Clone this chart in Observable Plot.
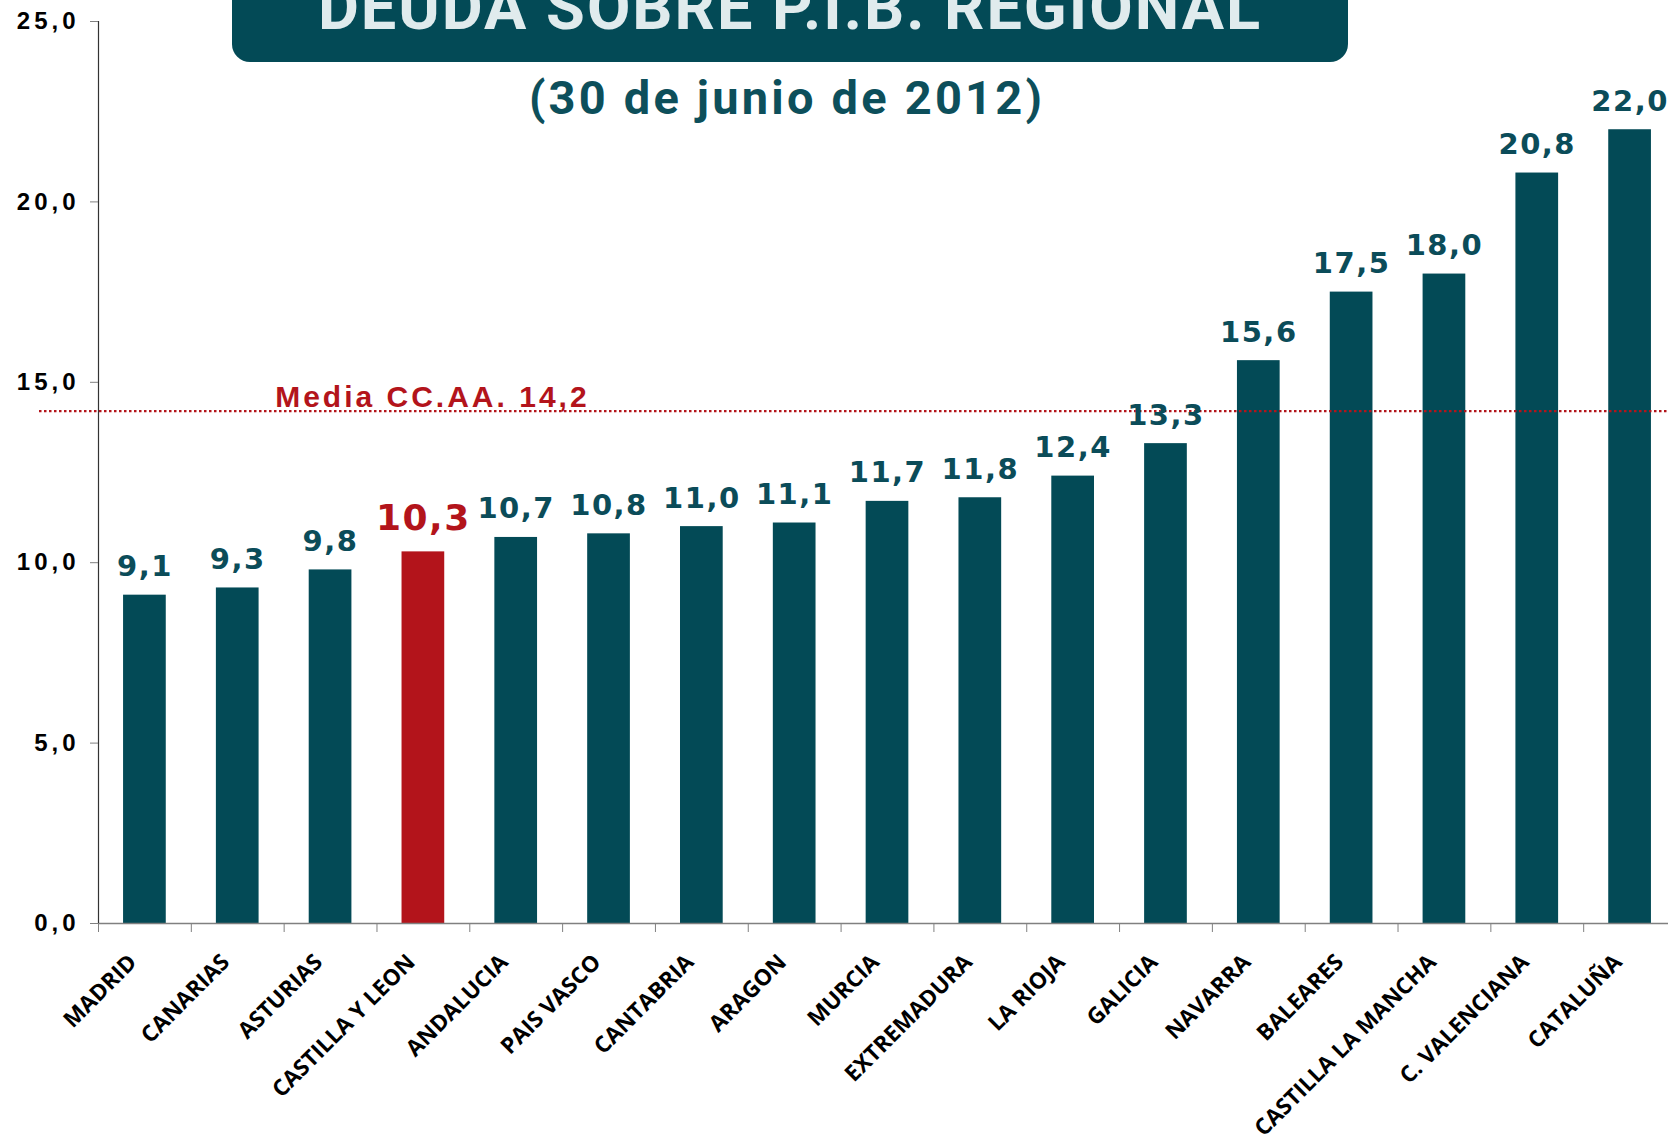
<!DOCTYPE html>
<html><head><meta charset="utf-8">
<script src="https://cdn.jsdelivr.net/npm/d3@7"></script>
<script src="https://cdn.jsdelivr.net/npm/@observablehq/plot@0.6"></script>
<style>
html,body{margin:0;padding:0;overflow:hidden;background:#fff;width:1668px;height:1138px;}
#wrap{position:relative;width:1668px;height:1138px;overflow:hidden;}
#chart{position:absolute;left:0;top:0;width:1676px;}
#chart svg{max-width:none !important;}
#head{position:absolute;left:0;top:0;}
</style></head><body>
<div id="wrap"><div id="chart"></div><svg id="head" width="1668" height="140"></svg></div>
<script>
const titleText = "DEUDA SOBRE P.I.B. REGIONAL";
const subtitleText = "(30 de junio de 2012)";
const regions = ["MADRID","CANARIAS","ASTURIAS","CASTILLA Y LEON","ANDALUCIA","PAIS VASCO","CANTABRIA","ARAGON","MURCIA","EXTREMADURA","LA RIOJA","GALICIA","NAVARRA","BALEARES","CASTILLA LA MANCHA","C. VALENCIANA","CATALUÑA"];
const deuda = [9.1,9.3,9.8,10.3,10.7,10.8,11.0,11.1,11.7,11.8,12.4,13.3,15.6,17.5,18.0,20.8,22.0];
const highlight = "CASTILLA Y LEON";
const mediaCCAA = 14.2;
const mediaLabel = "Media CC.AA. 14,2";
const yTicks = [0,5,10,15,20,25];

const teal = "#034a56", red = "#b3141b", labelTeal = "#0b4c59";
const W = 1676, H = 1138, ML = 98, MR = 0, MT = 21, MB = 215;
const step = (W - ML - MR) / regions.length;
const fmt = v => v.toFixed(1).replace(".", ",");
const data = regions.map((r, i) => ({region: r, value: deuda[i], hl: r === highlight}));
const normal = data.filter(d => !d.hl), hl = data.filter(d => d.hl);

const chart = Plot.plot({
  width: W, height: H, marginLeft: ML, marginRight: MR, marginTop: MT, marginBottom: MB,
  x: {domain: regions, paddingInner: 0.54, paddingOuter: 0.27, round: false, label: null},
  y: {domain: [0, 25], label: null},
  style: {background: "transparent", overflow: "visible", maxWidth: "none"},
  marks: [
    Plot.barY(normal, {x: "region", y: "value", fill: teal}),
    Plot.barY(hl, {x: "region", y: "value", fill: red}),
    Plot.ruleY([0], {stroke: "#808080", strokeWidth: 1.5}),
    Plot.ruleX([regions[0]], {y1: 0, y2: 25, dx: -step / 2, stroke: "#333", strokeWidth: 1.2}),
    Plot.axisY({ticks: yTicks, tickFormat: fmt, tickSize: 8, tickPadding: 11, stroke: "#808080",
      fontSize: 24, fontWeight: "bold", fontFamily: "Liberation Sans", fill: "#000"}),
    Plot.axisX({tickSize: 9, tickFormat: () => "", dx: -step / 2, stroke: "#808080"}),
    Plot.axisX({tickSize: 0, tickRotate: -45, tickPadding: 35, dx: -12, fontSize: 22.5,
      fontWeight: "bold", fontFamily: "Open Sans", fill: "#000"}),
    Plot.ruleY([mediaCCAA], {stroke: red, strokeDasharray: "2.5,2.5", strokeWidth: 2.2, insetLeft: -59}),
    Plot.text([mediaLabel], {x: () => highlight, y: () => mediaCCAA, text: d => d, lineAnchor: "bottom",
      dy: -4, dx: 9, fill: red, fontSize: 30, fontWeight: "bold", fontFamily: "Liberation Sans"}),
    Plot.text(normal, {x: "region", y: "value", text: d => fmt(d.value), lineAnchor: "bottom", dy: -19,
      fill: labelTeal, fontSize: 29, fontWeight: "bold", fontFamily: "DejaVu Sans"}),
    Plot.text(hl, {x: "region", y: "value", text: d => fmt(d.value), lineAnchor: "bottom", dy: -22,
      fill: red, fontSize: 36, fontWeight: "bold", fontFamily: "DejaVu Sans"})
  ]
});
document.getElementById("chart").appendChild(chart);

// letter spacing (style only), chosen by text content
const valueStrings = new Set(deuda.map(fmt));
const tickStrings = new Set(yTicks.map(fmt));
d3.select(chart).selectAll("text").each(function () {
  const t = this.textContent;
  if (t === mediaLabel) this.style.letterSpacing = "3px";
  else if (tickStrings.has(t)) this.style.letterSpacing = "4px";
  else if (valueStrings.has(t)) this.style.letterSpacing = "1.5px";
});

const head = d3.select("#head");
head.append("rect").attr("x", 232).attr("y", -40).attr("width", 1116).attr("height", 102).attr("rx", 18).attr("fill", teal);
head.append("text").attr("x", 790).attr("y", 29).attr("text-anchor", "middle")
  .attr("font-family", "Roboto").attr("font-weight", 700).attr("font-size", 63).attr("fill", "#e0ebed")
  .style("letter-spacing", "2px").text(titleText);
head.append("text").attr("x", 787).attr("y", 114).attr("text-anchor", "middle")
  .attr("font-family", "Roboto").attr("font-weight", 700).attr("font-size", 47).attr("fill", "#0d4f5b")
  .style("letter-spacing", "3.2px").text(subtitleText);
</script>
</body></html>
